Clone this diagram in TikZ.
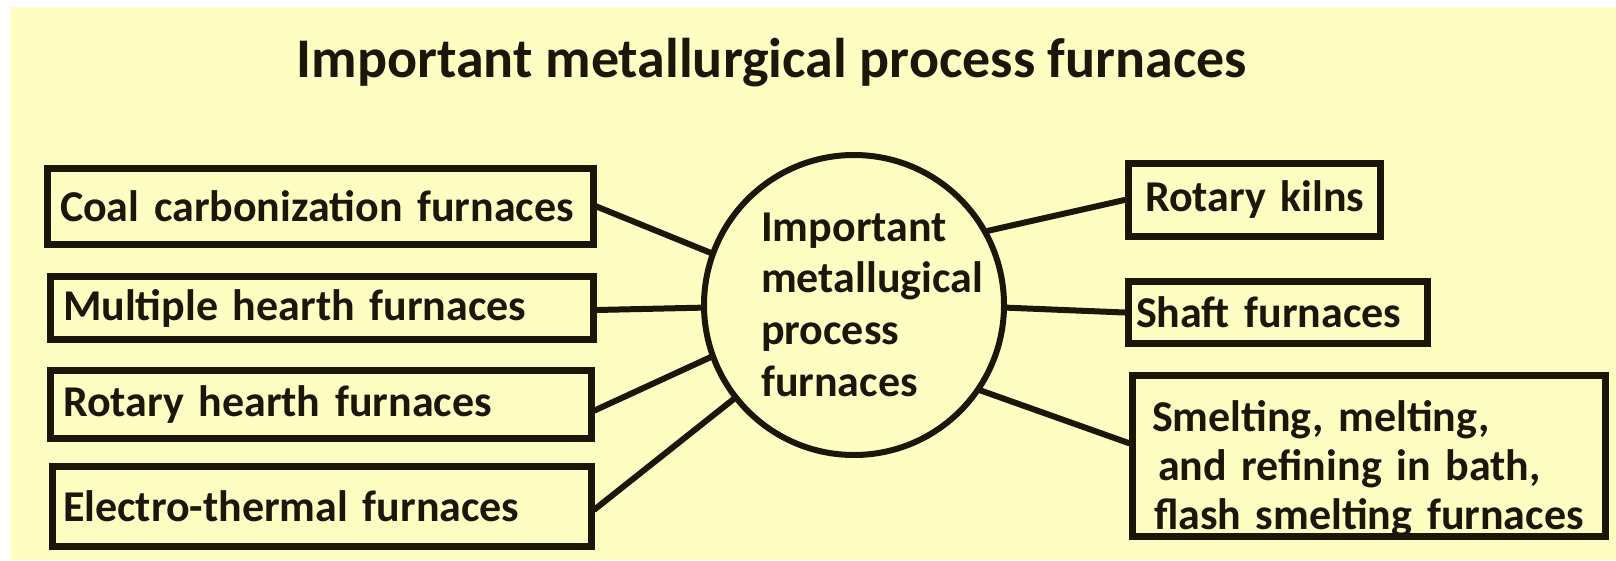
\documentclass[tikz,border=0pt]{standalone}
\usepackage{fontspec}
\setmainfont{Carlito}
\usepackage{tikz}
\usetikzlibrary{calc}
\definecolor{paper}{HTML}{FFFEC2}
\definecolor{ink}{HTML}{1A1608}
\tikzset{
  furn/.style={draw=ink, line width=7pt, anchor=west, inner ysep=0pt,
    align=left, text=ink, font=\fontsize{44}{52}\selectfont\bfseries},
  hubc/.style={draw=ink, line width=6pt, circle, inner sep=0pt},
  link/.style={draw=ink, line width=6pt, line cap=round},
  lab/.style={text=ink, align=left, inner sep=0pt, font=\fontsize{44}{51.7}\selectfont\bfseries}
}
\begin{document}
\begin{tikzpicture}[x=1pt,y=-1pt]
  \useasboundingbox (0,0) rectangle (1616,560);
  \fill[white] (0,0) rectangle (1616,560);
  \fill[paper] (10,7) rectangle (1616,560);
  \node[text=ink, font=\fontsize{56}{64}\selectfont\bfseries] (title) at (772,63)
    {Important metallurgical process furnaces};
  % left column
  \node[furn, inner xsep=13pt, text width=520pt, minimum height=76pt] (coal) at (43.5,206.5)
    {\mbox{Coal carbonization furnaces}};
  \node[furn, inner xsep=13pt, text width=517pt, minimum height=63pt] (multi) at (46.5,308)
    {\mbox{Multiple hearth furnaces}};
  \node[furn, inner xsep=13pt, text width=515pt, minimum height=68pt] (rhearth) at (46.5,404.5)
    {\mbox{Rotary hearth furnaces}};
  \node[furn, inner xsep=11pt, text width=517pt, minimum height=80pt] (electro) at (48.5,506.5)
    {\mbox{Electro-thermal furnaces}};
  % centre
  \def\r{150}
  \node[hubc, minimum size=2*\r pt] (hub) at (854,305) {};
  \node[lab, anchor=west] (hubtxt) at (761,304.5)
    {Important\\metallugical\\process\\furnaces};
  % right column
  \node[furn, inner xsep=17pt, text width=218pt, minimum height=73pt] (kilns) at (1124.5,200)
    {\mbox{Rotary kilns}};
  \node[furn, inner xsep=8pt, text width=283pt, minimum height=62pt] (shaft) at (1124.5,312.5)
    {\mbox{Shaft furnaces}};
  \node[furn, inner xsep=20pt, text width=433pt, minimum height=161pt,
    font=\fontsize{44}{49}\selectfont\bfseries] (smelt) at (1128.5,456)
    {\rule{0pt}{56pt}\mbox{Smelting, melting,}\\\mbox{\hspace*{6pt}and refining in bath,}\\\mbox{\hspace*{2pt}flash smelting furnaces}};
  % links
  \draw[link] (coal.east) -- (hub.160);
  \draw[link] ([yshift=-2pt]multi.east) -- (hub.181);
  \draw[link] ([yshift=-6pt]rhearth.east) -- (hub.200);
  \draw[link] ([yshift=-3pt]electro.east) -- (hub.218);
  \draw[link] (hub.29) -- (kilns.west);
  \draw[link] (hub.-1) -- (shaft.west);
  \draw[link] (hub.-34) -- ([yshift=13pt]smelt.west);
\end{tikzpicture}
\end{document}
